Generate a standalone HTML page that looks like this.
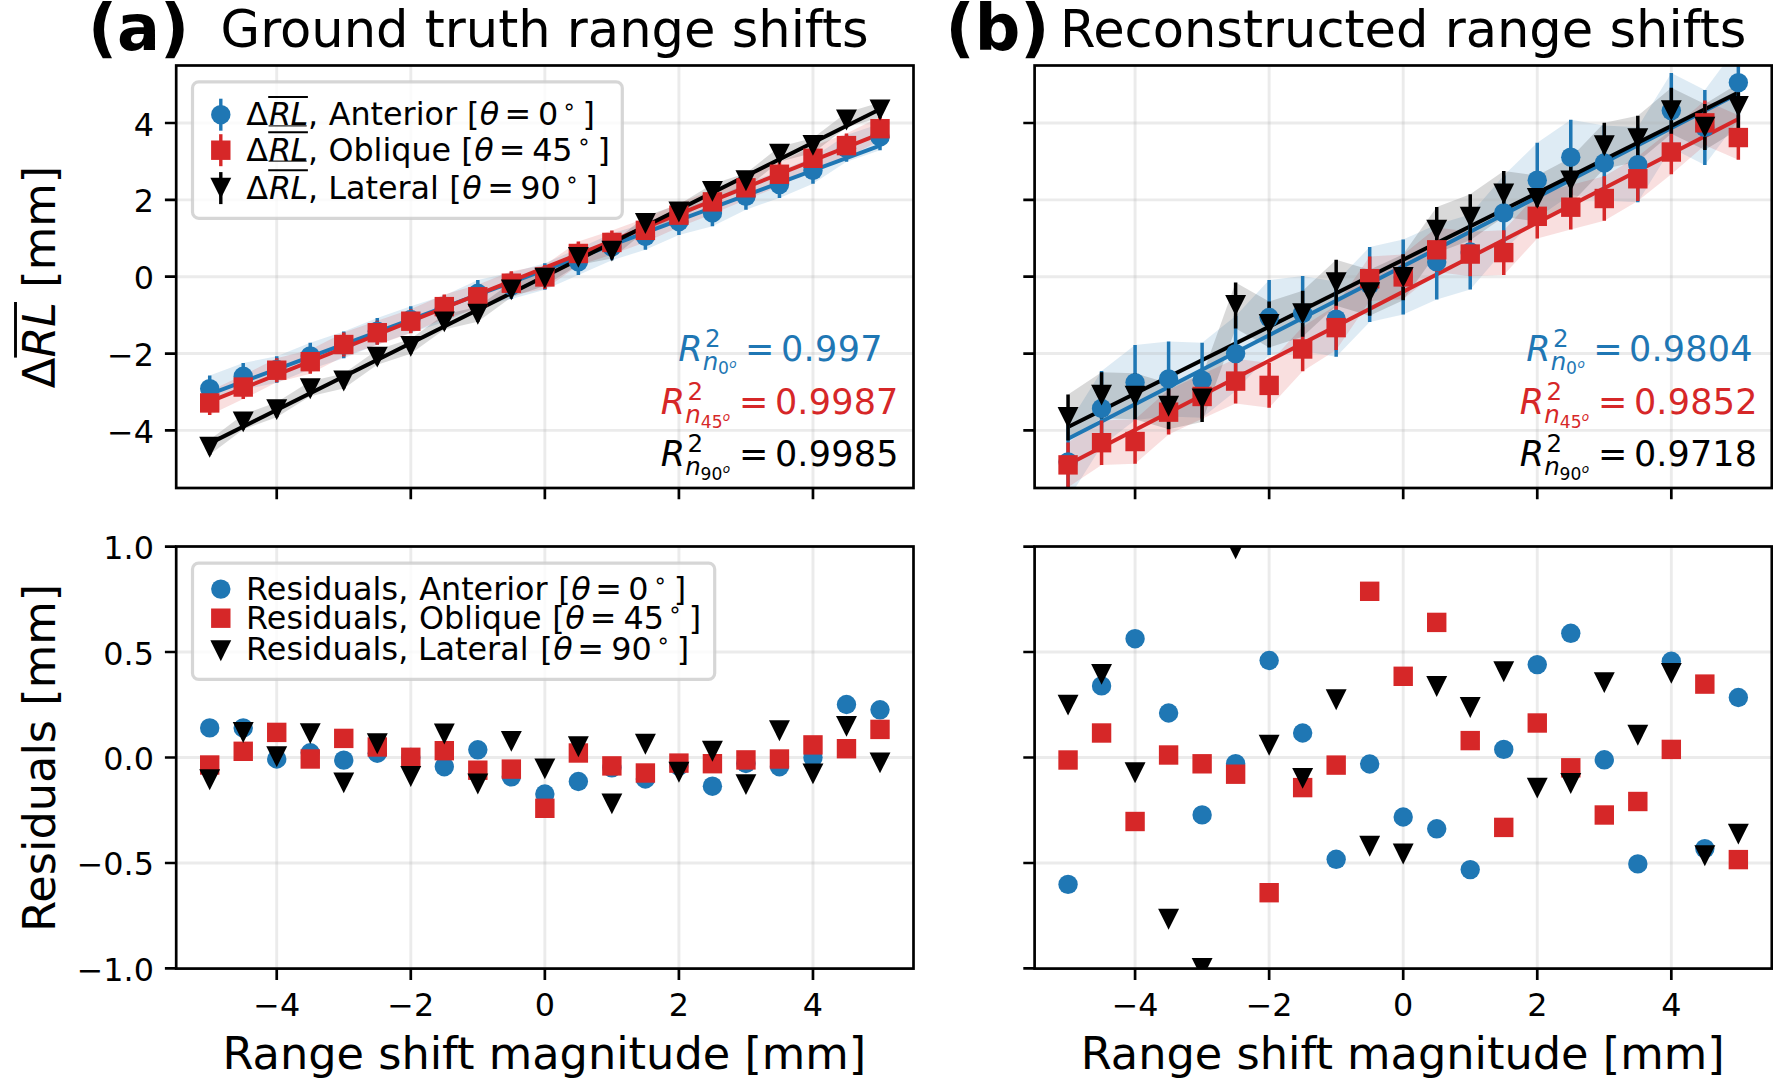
<!DOCTYPE html>
<html lang="en"><head><meta charset="utf-8"><title>Range shifts: ground truth vs reconstructed</title>
<style>html,body{margin:0;padding:0;background:#fff}svg{display:block}</style></head>
<body>
<svg width="1773" height="1078" viewBox="0 0 1773 1078" font-family="'DejaVu Sans','Liberation Sans',sans-serif">
<rect width="1773" height="1078" fill="#fff"/>
<defs>
<clipPath id="clipA"><rect x="176.2" y="65.5" width="737.3" height="422.5"/></clipPath>
<clipPath id="clipB"><rect x="176.2" y="546.5" width="737.3" height="422.1"/></clipPath>
<clipPath id="clipC"><rect x="1034.6" y="65.5" width="737.2" height="422.5"/></clipPath>
<clipPath id="clipD"><rect x="1034.6" y="546.5" width="737.2" height="422.1"/></clipPath>
</defs>
<g clip-path="url(#clipA)">
<polygon points="209.7,375.42 243.22,363 276.73,356.24 310.25,342.68 343.76,331.59 377.28,317.91 410.79,306.27 444.31,295.52 477.82,280.02 511.34,272.51 544.85,263.22 578.37,248.52 611.88,233.6 645.39,223.21 678.91,208.44 712.42,199.68 745.94,183.12 779.46,171.28 812.97,157.18 846.49,135.1 880,123.64 880,150.24 846.49,161.7 812.97,183.78 779.46,197.88 745.94,209.72 712.42,226.28 678.91,235.04 645.39,249.81 611.88,260.2 578.37,275.12 544.85,289.82 511.34,299.11 477.82,306.62 444.31,322.12 410.79,332.87 377.28,344.51 343.76,358.19 310.25,369.28 276.73,382.84 243.22,389.6 209.7,402.02" fill="#1f77b4" fill-opacity="0.15"/>
<polygon points="209.7,390.94 243.22,375.05 276.73,358.22 310.25,349.68 343.76,332.54 377.28,320.72 410.79,309.21 444.31,294.62 477.82,284.78 511.34,271.19 544.85,264.94 578.37,241.48 611.88,230.44 645.39,218.35 678.91,203.16 712.42,189.88 745.94,175.8 779.46,162.25 812.97,146.29 846.49,133.6 880,116.69 880,140.69 846.49,157.6 812.97,170.29 779.46,186.25 745.94,199.8 712.42,213.88 678.91,227.16 645.39,242.35 611.88,254.44 578.37,265.48 544.85,288.94 511.34,295.19 477.82,308.78 444.31,318.62 410.79,333.21 377.28,344.72 343.76,356.54 310.25,373.68 276.73,382.22 243.22,399.05 209.7,414.94" fill="#d62728" fill-opacity="0.15"/>
<polygon points="209.7,439.72 243.22,414.41 276.73,402.13 310.25,381.19 343.76,373.46 377.28,349.63 410.79,338.87 444.31,314.42 477.82,306.82 511.34,282.35 544.85,270.65 578.37,249.91 611.88,243.6 645.39,216.04 678.91,204.43 712.42,183.89 745.94,173.25 779.46,146.72 812.97,137.88 846.49,112.51 880,102.45 880,117.45 846.49,127.51 812.97,152.88 779.46,161.72 745.94,188.25 712.42,198.89 678.91,219.43 645.39,231.04 611.88,258.6 578.37,264.91 544.85,285.65 511.34,297.35 477.82,321.82 444.31,329.42 410.79,353.87 377.28,364.63 343.76,388.46 310.25,396.19 276.73,417.13 243.22,429.41 209.7,454.72" fill="#000000" fill-opacity="0.15"/>
</g>
<path d="M276.73 65.5V488M410.79 65.5V488M544.85 65.5V488M678.91 65.5V488M812.97 65.5V488" stroke="#b0b0b0" stroke-opacity="0.25" stroke-width="2.9" fill="none"/>
<path d="M176.2 430.38H913.5M176.2 353.54H913.5M176.2 276.7H913.5M176.2 199.86H913.5M176.2 123.02H913.5" stroke="#b0b0b0" stroke-opacity="0.25" stroke-width="2.9" fill="none"/>
<g clip-path="url(#clipA)">
<path d="M209.7 394.14L880 145.62" stroke="#1f77b4" stroke-width="4" fill="none"/>
<path d="M209.7 401.59L880 133.82" stroke="#d62728" stroke-width="4" fill="none"/>
<path d="M209.7 443.38L880 109.18" stroke="#000000" stroke-width="4" fill="none"/>
<path d="M209.7 375.42V402.02M243.22 363V389.6M276.73 356.24V382.84M310.25 342.68V369.28M343.76 331.59V358.19M377.28 317.91V344.51M410.79 306.27V332.87M444.31 295.52V322.12M477.82 280.02V306.62M511.34 272.51V299.11M544.85 263.22V289.82M578.37 248.52V275.12M611.88 233.6V260.2M645.39 223.21V249.81M678.91 208.44V235.04M712.42 199.68V226.28M745.94 183.12V209.72M779.46 171.28V197.88M812.97 157.18V183.78M846.49 135.1V161.7M880 123.64V150.24" stroke="#1f77b4" stroke-width="3.5" fill="none"/>
<path d="M209.7 390.94V414.94M243.22 375.05V399.05M276.73 358.22V382.22M310.25 349.68V373.68M343.76 332.54V356.54M377.28 320.72V344.72M410.79 309.21V333.21M444.31 294.62V318.62M477.82 284.78V308.78M511.34 271.19V295.19M544.85 264.94V288.94M578.37 241.48V265.48M611.88 230.44V254.44M645.39 218.35V242.35M678.91 203.16V227.16M712.42 189.88V213.88M745.94 175.8V199.8M779.46 162.25V186.25M812.97 146.29V170.29M846.49 133.6V157.6M880 116.69V140.69" stroke="#d62728" stroke-width="3.5" fill="none"/>
<path d="M209.7 439.72V454.72M243.22 414.41V429.41M276.73 402.13V417.13M310.25 381.19V396.19M343.76 373.46V388.46M377.28 349.63V364.63M410.79 338.87V353.87M444.31 314.42V329.42M477.82 306.82V321.82M511.34 282.35V297.35M544.85 270.65V285.65M578.37 249.91V264.91M611.88 243.6V258.6M645.39 216.04V231.04M678.91 204.43V219.43M712.42 183.89V198.89M745.94 173.25V188.25M779.46 146.72V161.72M812.97 137.88V152.88M846.49 112.51V127.51M880 102.45V117.45" stroke="#000000" stroke-width="3.5" fill="none"/>
<circle cx="209.7" cy="388.72" r="9.7" fill="#1f77b4"/><circle cx="243.22" cy="376.3" r="9.7" fill="#1f77b4"/><circle cx="276.73" cy="369.54" r="9.7" fill="#1f77b4"/><circle cx="310.25" cy="355.98" r="9.7" fill="#1f77b4"/><circle cx="343.76" cy="344.89" r="9.7" fill="#1f77b4"/><circle cx="377.28" cy="331.21" r="9.7" fill="#1f77b4"/><circle cx="410.79" cy="319.57" r="9.7" fill="#1f77b4"/><circle cx="444.31" cy="308.82" r="9.7" fill="#1f77b4"/><circle cx="477.82" cy="293.32" r="9.7" fill="#1f77b4"/><circle cx="511.34" cy="285.81" r="9.7" fill="#1f77b4"/><circle cx="544.85" cy="276.52" r="9.7" fill="#1f77b4"/><circle cx="578.37" cy="261.82" r="9.7" fill="#1f77b4"/><circle cx="611.88" cy="246.9" r="9.7" fill="#1f77b4"/><circle cx="645.39" cy="236.51" r="9.7" fill="#1f77b4"/><circle cx="678.91" cy="221.74" r="9.7" fill="#1f77b4"/><circle cx="712.42" cy="212.98" r="9.7" fill="#1f77b4"/><circle cx="745.94" cy="196.42" r="9.7" fill="#1f77b4"/><circle cx="779.46" cy="184.58" r="9.7" fill="#1f77b4"/><circle cx="812.97" cy="170.48" r="9.7" fill="#1f77b4"/><circle cx="846.49" cy="148.4" r="9.7" fill="#1f77b4"/><circle cx="880" cy="136.94" r="9.7" fill="#1f77b4"/>
<rect x="200" y="393.24" width="19.4" height="19.4" fill="#d62728"/><rect x="233.52" y="377.35" width="19.4" height="19.4" fill="#d62728"/><rect x="267.03" y="360.52" width="19.4" height="19.4" fill="#d62728"/><rect x="300.55" y="351.98" width="19.4" height="19.4" fill="#d62728"/><rect x="334.06" y="334.84" width="19.4" height="19.4" fill="#d62728"/><rect x="367.58" y="323.02" width="19.4" height="19.4" fill="#d62728"/><rect x="401.09" y="311.51" width="19.4" height="19.4" fill="#d62728"/><rect x="434.61" y="296.92" width="19.4" height="19.4" fill="#d62728"/><rect x="468.12" y="287.08" width="19.4" height="19.4" fill="#d62728"/><rect x="501.64" y="273.49" width="19.4" height="19.4" fill="#d62728"/><rect x="535.15" y="267.24" width="19.4" height="19.4" fill="#d62728"/><rect x="568.66" y="243.78" width="19.4" height="19.4" fill="#d62728"/><rect x="602.18" y="232.74" width="19.4" height="19.4" fill="#d62728"/><rect x="635.69" y="220.65" width="19.4" height="19.4" fill="#d62728"/><rect x="669.21" y="205.46" width="19.4" height="19.4" fill="#d62728"/><rect x="702.72" y="192.18" width="19.4" height="19.4" fill="#d62728"/><rect x="736.24" y="178.1" width="19.4" height="19.4" fill="#d62728"/><rect x="769.75" y="164.55" width="19.4" height="19.4" fill="#d62728"/><rect x="803.27" y="148.59" width="19.4" height="19.4" fill="#d62728"/><rect x="836.78" y="135.9" width="19.4" height="19.4" fill="#d62728"/><rect x="870.3" y="118.99" width="19.4" height="19.4" fill="#d62728"/>
<path d="M199.25 436.77H220.15L209.7 457.67Z" fill="#000000"/><path d="M232.77 411.46H253.67L243.22 432.36Z" fill="#000000"/><path d="M266.28 399.18H287.18L276.73 420.08Z" fill="#000000"/><path d="M299.8 378.24H320.69L310.25 399.14Z" fill="#000000"/><path d="M333.31 370.51H354.21L343.76 391.41Z" fill="#000000"/><path d="M366.83 346.68H387.73L377.28 367.58Z" fill="#000000"/><path d="M400.34 335.92H421.24L410.79 356.82Z" fill="#000000"/><path d="M433.86 311.47H454.75L444.31 332.37Z" fill="#000000"/><path d="M467.37 303.87H488.27L477.82 324.77Z" fill="#000000"/><path d="M500.89 279.4H521.79L511.34 300.3Z" fill="#000000"/><path d="M534.4 267.7H555.3L544.85 288.6Z" fill="#000000"/><path d="M567.91 246.96H588.82L578.37 267.86Z" fill="#000000"/><path d="M601.43 240.65H622.33L611.88 261.55Z" fill="#000000"/><path d="M634.94 213.09H655.85L645.39 233.99Z" fill="#000000"/><path d="M668.46 201.48H689.36L678.91 222.38Z" fill="#000000"/><path d="M701.97 180.94H722.88L712.42 201.84Z" fill="#000000"/><path d="M735.49 170.3H756.39L745.94 191.2Z" fill="#000000"/><path d="M769 143.77H789.91L779.46 164.67Z" fill="#000000"/><path d="M802.52 134.93H823.42L812.97 155.83Z" fill="#000000"/><path d="M836.03 109.56H856.94L846.49 130.46Z" fill="#000000"/><path d="M869.55 99.5H890.45L880 120.4Z" fill="#000000"/>
</g>
<rect x="176.2" y="65.5" width="737.3" height="422.5" fill="none" stroke="#000" stroke-width="2.7"/>
<g clip-path="url(#clipC)">
<polygon points="1068.05,424.39 1101.57,370.97 1135.08,345.11 1168.6,341.39 1202.11,342.68 1235.62,316.1 1269.14,280.04 1302.65,275.98 1336.17,281.72 1369.68,247.1 1403.2,239.49 1436.72,224.38 1470.23,214.55 1503.75,175.4 1537.26,142.69 1570.78,119.73 1604.29,125.51 1637.81,127.2 1671.32,73.04 1704.84,89.89 1738.35,45.11 1738.35,120.11 1704.84,164.89 1671.32,148.04 1637.81,202.2 1604.29,200.51 1570.78,194.73 1537.26,217.69 1503.75,250.4 1470.23,289.55 1436.72,299.38 1403.2,314.49 1369.68,322.1 1336.17,356.72 1302.65,350.98 1269.14,355.04 1235.62,391.1 1202.11,417.68 1168.6,416.39 1135.08,420.11 1101.57,445.97 1068.05,499.39" fill="#1f77b4" fill-opacity="0.15"/>
<polygon points="1068.05,442.58 1101.57,420.39 1135.08,419.23 1168.6,389.84 1202.11,374.17 1235.62,358.79 1269.14,363.1 1302.65,326.69 1336.17,305.32 1369.68,256.39 1403.2,254.6 1436.72,227.51 1470.23,231.76 1503.75,230.3 1537.26,194.01 1570.78,184.89 1604.29,176.22 1637.81,156.48 1671.32,129.72 1704.84,100.56 1738.35,115.25 1738.35,159.85 1704.84,145.16 1671.32,174.32 1637.81,201.08 1604.29,220.82 1570.78,229.49 1537.26,238.61 1503.75,274.9 1470.23,276.36 1436.72,272.11 1403.2,299.2 1369.68,300.99 1336.17,349.92 1302.65,371.29 1269.14,407.7 1235.62,403.39 1202.11,418.77 1168.6,434.44 1135.08,463.83 1101.57,464.99 1068.05,487.18" fill="#d62728" fill-opacity="0.15"/>
<polygon points="1068.05,394.46 1101.57,372.14 1135.08,373.32 1168.6,383.28 1202.11,375.9 1235.62,282.4 1269.14,301.41 1302.65,290.73 1336.17,259.69 1369.68,269.63 1403.2,254.33 1436.72,207.09 1470.23,194.19 1503.75,170.97 1537.26,175.42 1570.78,157.86 1604.29,122.76 1637.81,115.63 1671.32,87.63 1704.84,104.11 1738.35,83.45 1738.35,129.45 1704.84,150.11 1671.32,133.63 1637.81,161.63 1604.29,168.76 1570.78,203.86 1537.26,221.42 1503.75,216.97 1470.23,240.19 1436.72,253.09 1403.2,300.33 1369.68,315.63 1336.17,305.69 1302.65,336.73 1269.14,347.41 1235.62,328.4 1202.11,421.9 1168.6,429.28 1135.08,419.32 1101.57,418.14 1068.05,440.46" fill="#000000" fill-opacity="0.15"/>
</g>
<path d="M1135.08 65.5V488M1269.14 65.5V488M1403.2 65.5V488M1537.26 65.5V488M1671.32 65.5V488" stroke="#b0b0b0" stroke-opacity="0.25" stroke-width="2.9" fill="none"/>
<path d="M1034.6 430.38H1771.8M1034.6 353.54H1771.8M1034.6 276.7H1771.8M1034.6 199.86H1771.8M1034.6 123.02H1771.8" stroke="#b0b0b0" stroke-opacity="0.25" stroke-width="2.9" fill="none"/>
<g clip-path="url(#clipC)">
<path d="M1068.05 438.81L1738.35 93.57" stroke="#1f77b4" stroke-width="4" fill="none"/>
<path d="M1068.05 464.45L1738.35 118.99" stroke="#d62728" stroke-width="4" fill="none"/>
<path d="M1068.05 427L1738.35 92.5" stroke="#000000" stroke-width="4" fill="none"/>
<path d="M1068.05 424.39V499.39M1101.57 370.97V445.97M1135.08 345.11V420.11M1168.6 341.39V416.39M1202.11 342.68V417.68M1235.62 316.1V391.1M1269.14 280.04V355.04M1302.65 275.98V350.98M1336.17 281.72V356.72M1369.68 247.1V322.1M1403.2 239.49V314.49M1436.72 224.38V299.38M1470.23 214.55V289.55M1503.75 175.4V250.4M1537.26 142.69V217.69M1570.78 119.73V194.73M1604.29 125.51V200.51M1637.81 127.2V202.2M1671.32 73.04V148.04M1704.84 89.89V164.89M1738.35 45.11V120.11" stroke="#1f77b4" stroke-width="3.5" fill="none"/>
<path d="M1068.05 442.58V487.18M1101.57 420.39V464.99M1135.08 419.23V463.83M1168.6 389.84V434.44M1202.11 374.17V418.77M1235.62 358.79V403.39M1269.14 363.1V407.7M1302.65 326.69V371.29M1336.17 305.32V349.92M1369.68 256.39V300.99M1403.2 254.6V299.2M1436.72 227.51V272.11M1470.23 231.76V276.36M1503.75 230.3V274.9M1537.26 194.01V238.61M1570.78 184.89V229.49M1604.29 176.22V220.82M1637.81 156.48V201.08M1671.32 129.72V174.32M1704.84 100.56V145.16M1738.35 115.25V159.85" stroke="#d62728" stroke-width="3.5" fill="none"/>
<path d="M1068.05 394.46V440.46M1101.57 372.14V418.14M1135.08 373.32V419.32M1168.6 383.28V429.28M1202.11 375.9V421.9M1235.62 282.4V328.4M1269.14 301.41V347.41M1302.65 290.73V336.73M1336.17 259.69V305.69M1369.68 269.63V315.63M1403.2 254.33V300.33M1436.72 207.09V253.09M1470.23 194.19V240.19M1503.75 170.97V216.97M1537.26 175.42V221.42M1570.78 157.86V203.86M1604.29 122.76V168.76M1637.81 115.63V161.63M1671.32 87.63V133.63M1704.84 104.11V150.11M1738.35 83.45V129.45" stroke="#000000" stroke-width="3.5" fill="none"/>
<circle cx="1068.05" cy="461.89" r="9.7" fill="#1f77b4"/><circle cx="1101.57" cy="408.47" r="9.7" fill="#1f77b4"/><circle cx="1135.08" cy="382.61" r="9.7" fill="#1f77b4"/><circle cx="1168.6" cy="378.89" r="9.7" fill="#1f77b4"/><circle cx="1202.11" cy="380.18" r="9.7" fill="#1f77b4"/><circle cx="1235.62" cy="353.6" r="9.7" fill="#1f77b4"/><circle cx="1269.14" cy="317.54" r="9.7" fill="#1f77b4"/><circle cx="1302.65" cy="313.48" r="9.7" fill="#1f77b4"/><circle cx="1336.17" cy="319.22" r="9.7" fill="#1f77b4"/><circle cx="1369.68" cy="284.6" r="9.7" fill="#1f77b4"/><circle cx="1403.2" cy="276.99" r="9.7" fill="#1f77b4"/><circle cx="1436.72" cy="261.88" r="9.7" fill="#1f77b4"/><circle cx="1470.23" cy="252.05" r="9.7" fill="#1f77b4"/><circle cx="1503.75" cy="212.9" r="9.7" fill="#1f77b4"/><circle cx="1537.26" cy="180.19" r="9.7" fill="#1f77b4"/><circle cx="1570.78" cy="157.23" r="9.7" fill="#1f77b4"/><circle cx="1604.29" cy="163.01" r="9.7" fill="#1f77b4"/><circle cx="1637.81" cy="164.7" r="9.7" fill="#1f77b4"/><circle cx="1671.32" cy="110.54" r="9.7" fill="#1f77b4"/><circle cx="1704.84" cy="127.39" r="9.7" fill="#1f77b4"/><circle cx="1738.35" cy="82.61" r="9.7" fill="#1f77b4"/>
<rect x="1058.35" y="455.18" width="19.4" height="19.4" fill="#d62728"/><rect x="1091.87" y="432.99" width="19.4" height="19.4" fill="#d62728"/><rect x="1125.38" y="431.83" width="19.4" height="19.4" fill="#d62728"/><rect x="1158.89" y="402.44" width="19.4" height="19.4" fill="#d62728"/><rect x="1192.41" y="386.77" width="19.4" height="19.4" fill="#d62728"/><rect x="1225.92" y="371.39" width="19.4" height="19.4" fill="#d62728"/><rect x="1259.44" y="375.7" width="19.4" height="19.4" fill="#d62728"/><rect x="1292.95" y="339.29" width="19.4" height="19.4" fill="#d62728"/><rect x="1326.47" y="317.92" width="19.4" height="19.4" fill="#d62728"/><rect x="1359.98" y="268.99" width="19.4" height="19.4" fill="#d62728"/><rect x="1393.5" y="267.2" width="19.4" height="19.4" fill="#d62728"/><rect x="1427.02" y="240.11" width="19.4" height="19.4" fill="#d62728"/><rect x="1460.53" y="244.36" width="19.4" height="19.4" fill="#d62728"/><rect x="1494.05" y="242.9" width="19.4" height="19.4" fill="#d62728"/><rect x="1527.56" y="206.61" width="19.4" height="19.4" fill="#d62728"/><rect x="1561.08" y="197.49" width="19.4" height="19.4" fill="#d62728"/><rect x="1594.59" y="188.82" width="19.4" height="19.4" fill="#d62728"/><rect x="1628.11" y="169.08" width="19.4" height="19.4" fill="#d62728"/><rect x="1661.62" y="142.32" width="19.4" height="19.4" fill="#d62728"/><rect x="1695.13" y="113.16" width="19.4" height="19.4" fill="#d62728"/><rect x="1728.65" y="127.85" width="19.4" height="19.4" fill="#d62728"/>
<path d="M1057.6 407.01H1078.5L1068.05 427.91Z" fill="#000000"/><path d="M1091.12 384.69H1112.02L1101.57 405.59Z" fill="#000000"/><path d="M1124.63 385.87H1145.53L1135.08 406.77Z" fill="#000000"/><path d="M1158.14 395.83H1179.05L1168.6 416.73Z" fill="#000000"/><path d="M1191.66 388.45H1212.56L1202.11 409.35Z" fill="#000000"/><path d="M1225.17 294.95H1246.08L1235.62 315.85Z" fill="#000000"/><path d="M1258.69 313.96H1279.59L1269.14 334.86Z" fill="#000000"/><path d="M1292.2 303.28H1313.11L1302.65 324.18Z" fill="#000000"/><path d="M1325.72 272.24H1346.62L1336.17 293.14Z" fill="#000000"/><path d="M1359.23 282.18H1380.13L1369.68 303.08Z" fill="#000000"/><path d="M1392.75 266.88H1413.65L1403.2 287.78Z" fill="#000000"/><path d="M1426.27 219.64H1447.17L1436.72 240.54Z" fill="#000000"/><path d="M1459.78 206.74H1480.68L1470.23 227.64Z" fill="#000000"/><path d="M1493.3 183.52H1514.2L1503.75 204.42Z" fill="#000000"/><path d="M1526.81 187.97H1547.71L1537.26 208.87Z" fill="#000000"/><path d="M1560.33 170.41H1581.23L1570.78 191.31Z" fill="#000000"/><path d="M1593.84 135.31H1614.74L1604.29 156.21Z" fill="#000000"/><path d="M1627.36 128.18H1648.26L1637.81 149.08Z" fill="#000000"/><path d="M1660.87 100.18H1681.77L1671.32 121.08Z" fill="#000000"/><path d="M1694.38 116.66H1715.29L1704.84 137.56Z" fill="#000000"/><path d="M1727.9 96H1748.8L1738.35 116.9Z" fill="#000000"/>
</g>
<rect x="1034.6" y="65.5" width="737.2" height="422.5" fill="none" stroke="#000" stroke-width="2.7"/>
<path d="M276.73 546.5V968.6M410.79 546.5V968.6M544.85 546.5V968.6M678.91 546.5V968.6M812.97 546.5V968.6" stroke="#b0b0b0" stroke-opacity="0.25" stroke-width="2.9" fill="none"/>
<path d="M176.2 968.45H913.5M176.2 862.98H913.5M176.2 757.5H913.5M176.2 652.02H913.5M176.2 546.55H913.5" stroke="#b0b0b0" stroke-opacity="0.25" stroke-width="2.9" fill="none"/>
<g clip-path="url(#clipB)">
<circle cx="209.7" cy="727.9" r="9.7" fill="#1f77b4"/><circle cx="243.22" cy="727.9" r="9.7" fill="#1f77b4"/><circle cx="276.73" cy="759" r="9.7" fill="#1f77b4"/><circle cx="310.25" cy="752.8" r="9.7" fill="#1f77b4"/><circle cx="343.76" cy="760.1" r="9.7" fill="#1f77b4"/><circle cx="377.28" cy="753.2" r="9.7" fill="#1f77b4"/><circle cx="410.79" cy="757.5" r="9.7" fill="#1f77b4"/><circle cx="444.31" cy="766.7" r="9.7" fill="#1f77b4"/><circle cx="477.82" cy="749.8" r="9.7" fill="#1f77b4"/><circle cx="511.34" cy="776.8" r="9.7" fill="#1f77b4"/><circle cx="544.85" cy="794" r="9.7" fill="#1f77b4"/><circle cx="578.37" cy="781.5" r="9.7" fill="#1f77b4"/><circle cx="611.88" cy="767.8" r="9.7" fill="#1f77b4"/><circle cx="645.39" cy="779" r="9.7" fill="#1f77b4"/><circle cx="678.91" cy="766.1" r="9.7" fill="#1f77b4"/><circle cx="712.42" cy="786.2" r="9.7" fill="#1f77b4"/><circle cx="745.94" cy="763.5" r="9.7" fill="#1f77b4"/><circle cx="779.46" cy="766.7" r="9.7" fill="#1f77b4"/><circle cx="812.97" cy="757.5" r="9.7" fill="#1f77b4"/><circle cx="846.49" cy="704.5" r="9.7" fill="#1f77b4"/><circle cx="880" cy="709.8" r="9.7" fill="#1f77b4"/>
<rect x="200" y="755.3" width="19.4" height="19.4" fill="#d62728"/><rect x="233.52" y="741.6" width="19.4" height="19.4" fill="#d62728"/><rect x="267.03" y="722.7" width="19.4" height="19.4" fill="#d62728"/><rect x="300.55" y="749.3" width="19.4" height="19.4" fill="#d62728"/><rect x="334.06" y="728.7" width="19.4" height="19.4" fill="#d62728"/><rect x="367.58" y="737.3" width="19.4" height="19.4" fill="#d62728"/><rect x="401.09" y="747.6" width="19.4" height="19.4" fill="#d62728"/><rect x="434.61" y="741" width="19.4" height="19.4" fill="#d62728"/><rect x="468.12" y="760.5" width="19.4" height="19.4" fill="#d62728"/><rect x="501.64" y="759.4" width="19.4" height="19.4" fill="#d62728"/><rect x="535.15" y="798.6" width="19.4" height="19.4" fill="#d62728"/><rect x="568.66" y="743.3" width="19.4" height="19.4" fill="#d62728"/><rect x="602.18" y="756.2" width="19.4" height="19.4" fill="#d62728"/><rect x="635.69" y="763.3" width="19.4" height="19.4" fill="#d62728"/><rect x="669.21" y="753.4" width="19.4" height="19.4" fill="#d62728"/><rect x="702.72" y="754" width="19.4" height="19.4" fill="#d62728"/><rect x="736.24" y="750.2" width="19.4" height="19.4" fill="#d62728"/><rect x="769.75" y="749.3" width="19.4" height="19.4" fill="#d62728"/><rect x="803.27" y="735.2" width="19.4" height="19.4" fill="#d62728"/><rect x="836.78" y="739" width="19.4" height="19.4" fill="#d62728"/><rect x="870.3" y="719.7" width="19.4" height="19.4" fill="#d62728"/>
<path d="M199.25 769.25H220.15L209.7 790.15Z" fill="#000000"/><path d="M232.77 722.05H253.67L243.22 742.95Z" fill="#000000"/><path d="M266.28 746.35H287.18L276.73 767.25Z" fill="#000000"/><path d="M299.8 723.15H320.69L310.25 744.05Z" fill="#000000"/><path d="M333.31 772.45H354.21L343.76 793.35Z" fill="#000000"/><path d="M366.83 733.35H387.73L377.28 754.25Z" fill="#000000"/><path d="M400.34 766.05H421.24L410.79 786.95Z" fill="#000000"/><path d="M433.86 723.55H454.75L444.31 744.45Z" fill="#000000"/><path d="M467.37 773.55H488.27L477.82 794.45Z" fill="#000000"/><path d="M500.89 730.95H521.79L511.34 751.85Z" fill="#000000"/><path d="M534.4 758.45H555.3L544.85 779.35Z" fill="#000000"/><path d="M567.91 736.35H588.82L578.37 757.25Z" fill="#000000"/><path d="M601.43 793.45H622.33L611.88 814.35Z" fill="#000000"/><path d="M634.94 733.85H655.85L645.39 754.75Z" fill="#000000"/><path d="M668.46 761.85H689.36L678.91 782.75Z" fill="#000000"/><path d="M701.97 740.85H722.88L712.42 761.75Z" fill="#000000"/><path d="M735.49 774.15H756.39L745.94 795.05Z" fill="#000000"/><path d="M769 720.25H789.91L779.46 741.15Z" fill="#000000"/><path d="M802.52 763.45H823.42L812.97 784.35Z" fill="#000000"/><path d="M836.03 715.95H856.94L846.49 736.85Z" fill="#000000"/><path d="M869.55 752.45H890.45L880 773.35Z" fill="#000000"/>
</g>
<rect x="176.2" y="546.5" width="737.3" height="422.1" fill="none" stroke="#000" stroke-width="2.7"/>
<path d="M1135.08 546.5V968.6M1269.14 546.5V968.6M1403.2 546.5V968.6M1537.26 546.5V968.6M1671.32 546.5V968.6" stroke="#b0b0b0" stroke-opacity="0.25" stroke-width="2.9" fill="none"/>
<path d="M1034.6 968.45H1771.8M1034.6 862.98H1771.8M1034.6 757.5H1771.8M1034.6 652.02H1771.8M1034.6 546.55H1771.8" stroke="#b0b0b0" stroke-opacity="0.25" stroke-width="2.9" fill="none"/>
<g clip-path="url(#clipD)">
<circle cx="1068.05" cy="884.4" r="9.7" fill="#1f77b4"/><circle cx="1101.57" cy="685.9" r="9.7" fill="#1f77b4"/><circle cx="1135.08" cy="638.7" r="9.7" fill="#1f77b4"/><circle cx="1168.6" cy="713" r="9.7" fill="#1f77b4"/><circle cx="1202.11" cy="814.9" r="9.7" fill="#1f77b4"/><circle cx="1235.62" cy="763.7" r="9.7" fill="#1f77b4"/><circle cx="1269.14" cy="660.5" r="9.7" fill="#1f77b4"/><circle cx="1302.65" cy="733" r="9.7" fill="#1f77b4"/><circle cx="1336.17" cy="859.3" r="9.7" fill="#1f77b4"/><circle cx="1369.68" cy="764" r="9.7" fill="#1f77b4"/><circle cx="1403.2" cy="817" r="9.7" fill="#1f77b4"/><circle cx="1436.72" cy="828.8" r="9.7" fill="#1f77b4"/><circle cx="1470.23" cy="869.6" r="9.7" fill="#1f77b4"/><circle cx="1503.75" cy="749.4" r="9.7" fill="#1f77b4"/><circle cx="1537.26" cy="664.6" r="9.7" fill="#1f77b4"/><circle cx="1570.78" cy="633.3" r="9.7" fill="#1f77b4"/><circle cx="1604.29" cy="759.8" r="9.7" fill="#1f77b4"/><circle cx="1637.81" cy="863.9" r="9.7" fill="#1f77b4"/><circle cx="1671.32" cy="661.3" r="9.7" fill="#1f77b4"/><circle cx="1704.84" cy="848.6" r="9.7" fill="#1f77b4"/><circle cx="1738.35" cy="697.5" r="9.7" fill="#1f77b4"/>
<rect x="1058.35" y="750.3" width="19.4" height="19.4" fill="#d62728"/><rect x="1091.87" y="723.3" width="19.4" height="19.4" fill="#d62728"/><rect x="1125.38" y="811.8" width="19.4" height="19.4" fill="#d62728"/><rect x="1158.89" y="745.3" width="19.4" height="19.4" fill="#d62728"/><rect x="1192.41" y="754.1" width="19.4" height="19.4" fill="#d62728"/><rect x="1225.92" y="764.5" width="19.4" height="19.4" fill="#d62728"/><rect x="1259.44" y="883" width="19.4" height="19.4" fill="#d62728"/><rect x="1292.95" y="777.9" width="19.4" height="19.4" fill="#d62728"/><rect x="1326.47" y="755.4" width="19.4" height="19.4" fill="#d62728"/><rect x="1359.98" y="581.6" width="19.4" height="19.4" fill="#d62728"/><rect x="1393.5" y="666.6" width="19.4" height="19.4" fill="#d62728"/><rect x="1427.02" y="612.7" width="19.4" height="19.4" fill="#d62728"/><rect x="1460.53" y="730.9" width="19.4" height="19.4" fill="#d62728"/><rect x="1494.05" y="817.7" width="19.4" height="19.4" fill="#d62728"/><rect x="1527.56" y="713.3" width="19.4" height="19.4" fill="#d62728"/><rect x="1561.08" y="758.1" width="19.4" height="19.4" fill="#d62728"/><rect x="1594.59" y="805.3" width="19.4" height="19.4" fill="#d62728"/><rect x="1628.11" y="791.8" width="19.4" height="19.4" fill="#d62728"/><rect x="1661.62" y="739.7" width="19.4" height="19.4" fill="#d62728"/><rect x="1695.13" y="674.4" width="19.4" height="19.4" fill="#d62728"/><rect x="1728.65" y="849.9" width="19.4" height="19.4" fill="#d62728"/>
<path d="M1057.6 694.65H1078.5L1068.05 715.55Z" fill="#000000"/><path d="M1091.12 663.95H1112.02L1101.57 684.85Z" fill="#000000"/><path d="M1124.63 762.25H1145.53L1135.08 783.15Z" fill="#000000"/><path d="M1158.14 908.75H1179.05L1168.6 929.65Z" fill="#000000"/><path d="M1191.66 957.95H1212.56L1202.11 978.85Z" fill="#000000"/><path d="M1225.17 538.25H1246.08L1235.62 559.15Z" fill="#000000"/><path d="M1258.69 734.75H1279.59L1269.14 755.65Z" fill="#000000"/><path d="M1292.2 767.95H1313.11L1302.65 788.85Z" fill="#000000"/><path d="M1325.72 689.35H1346.62L1336.17 710.25Z" fill="#000000"/><path d="M1359.23 835.75H1380.13L1369.68 856.65Z" fill="#000000"/><path d="M1392.75 843.55H1413.65L1403.2 864.45Z" fill="#000000"/><path d="M1426.27 676.05H1447.17L1436.72 696.95Z" fill="#000000"/><path d="M1459.78 697.05H1480.68L1470.23 717.95Z" fill="#000000"/><path d="M1493.3 661.35H1514.2L1503.75 682.25Z" fill="#000000"/><path d="M1526.81 777.65H1547.71L1537.26 798.55Z" fill="#000000"/><path d="M1560.33 773.05H1581.23L1570.78 793.95Z" fill="#000000"/><path d="M1593.84 672.15H1614.74L1604.29 693.05Z" fill="#000000"/><path d="M1627.36 724.85H1648.26L1637.81 745.75Z" fill="#000000"/><path d="M1660.87 662.95H1681.77L1671.32 683.85Z" fill="#000000"/><path d="M1694.38 845.25H1715.29L1704.84 866.15Z" fill="#000000"/><path d="M1727.9 823.65H1748.8L1738.35 844.55Z" fill="#000000"/>
</g>
<rect x="1034.6" y="546.5" width="737.2" height="422.1" fill="none" stroke="#000" stroke-width="2.7"/>
<path d="M276.73 488v11.3M410.79 488v11.3M544.85 488v11.3M678.91 488v11.3M812.97 488v11.3M176.2 430.38h-11.3M176.2 353.54h-11.3M176.2 276.7h-11.3M176.2 199.86h-11.3M176.2 123.02h-11.3" stroke="#000" stroke-width="2.7" fill="none"/>
<path d="M1135.08 488v11.3M1269.14 488v11.3M1403.2 488v11.3M1537.26 488v11.3M1671.32 488v11.3M1034.6 430.38h-11.3M1034.6 353.54h-11.3M1034.6 276.7h-11.3M1034.6 199.86h-11.3M1034.6 123.02h-11.3" stroke="#000" stroke-width="2.7" fill="none"/>
<path d="M276.73 968.6v11.3M410.79 968.6v11.3M544.85 968.6v11.3M678.91 968.6v11.3M812.97 968.6v11.3M176.2 968.45h-11.3M176.2 862.98h-11.3M176.2 757.5h-11.3M176.2 652.02h-11.3M176.2 546.55h-11.3" stroke="#000" stroke-width="2.7" fill="none"/>
<path d="M1135.08 968.6v11.3M1269.14 968.6v11.3M1403.2 968.6v11.3M1537.26 968.6v11.3M1671.32 968.6v11.3M1034.6 968.45h-11.3M1034.6 862.98h-11.3M1034.6 757.5h-11.3M1034.6 652.02h-11.3M1034.6 546.55h-11.3" stroke="#000" stroke-width="2.7" fill="none"/>
<text x="276.73" y="1015.6" font-size="31.8" text-anchor="middle">−4</text>
<text x="410.79" y="1015.6" font-size="31.8" text-anchor="middle">−2</text>
<text x="544.85" y="1015.6" font-size="31.8" text-anchor="middle">0</text>
<text x="678.91" y="1015.6" font-size="31.8" text-anchor="middle">2</text>
<text x="812.97" y="1015.6" font-size="31.8" text-anchor="middle">4</text>
<text x="1135.08" y="1015.6" font-size="31.8" text-anchor="middle">−4</text>
<text x="1269.14" y="1015.6" font-size="31.8" text-anchor="middle">−2</text>
<text x="1403.2" y="1015.6" font-size="31.8" text-anchor="middle">0</text>
<text x="1537.26" y="1015.6" font-size="31.8" text-anchor="middle">2</text>
<text x="1671.32" y="1015.6" font-size="31.8" text-anchor="middle">4</text>
<text x="153.9" y="442.88" font-size="31.8" text-anchor="end">−4</text>
<text x="153.9" y="366.04" font-size="31.8" text-anchor="end">−2</text>
<text x="153.9" y="289.2" font-size="31.8" text-anchor="end">0</text>
<text x="153.9" y="212.36" font-size="31.8" text-anchor="end">2</text>
<text x="153.9" y="135.52" font-size="31.8" text-anchor="end">4</text>
<text x="153.9" y="980.95" font-size="31.8" text-anchor="end">−1.0</text>
<text x="153.9" y="875.48" font-size="31.8" text-anchor="end">−0.5</text>
<text x="153.9" y="770" font-size="31.8" text-anchor="end">0.0</text>
<text x="153.9" y="664.52" font-size="31.8" text-anchor="end">0.5</text>
<text x="153.9" y="559.05" font-size="31.8" text-anchor="end">1.0</text>
<text x="544.6" y="47" font-size="51.1" text-anchor="middle">Ground truth range shifts</text>
<text x="1403.2" y="47" font-size="51.1" text-anchor="middle">Reconstructed range shifts</text>
<text x="88.02" y="50.1" font-size="63.7" font-weight="bold">(a)</text>
<text x="945.62" y="50.1" font-size="63.7" font-weight="bold">(b)</text>
<text x="544.35" y="1068.5" font-size="44.65" text-anchor="middle">Range shift magnitude [mm]</text>
<text x="1402.7" y="1068.5" font-size="44.65" text-anchor="middle">Range shift magnitude [mm]</text>
<text transform="translate(55.2,757.8) rotate(-90)" font-size="44.65" text-anchor="middle">Residuals [mm]</text>
<text transform="translate(55.2,0) rotate(-90)" y="0" font-size="44.65"><tspan x="-388.36">Δ</tspan><tspan x="-357.51" font-style="oblique">R</tspan><tspan x="-327.11" font-style="oblique">L</tspan><tspan x="-287.74">[mm]</tspan></text>
<path d="M15.5 357.6V302" stroke="#000" stroke-width="2.9" fill="none"/>
<rect x="192.5" y="81.8" width="429.8" height="136.5" rx="6.2" fill="#fff" fill-opacity="0.8" stroke="#ccc" stroke-opacity="0.8" stroke-width="3.2"/>
<path d="M220.8 98.7V130.7" stroke="#1f77b4" stroke-width="3.4" fill="none"/>
<circle cx="220.8" cy="114.7" r="9.7" fill="#1f77b4"/>
<text><tspan x="246.25" y="125.4" font-size="31.8">Δ</tspan><tspan x="268.95" y="125.4" font-size="31.8" font-style="oblique">R</tspan><tspan x="290.45" y="125.4" font-size="31.8" font-style="oblique">L</tspan><tspan x="307.95" y="125.4" font-size="31.8">,</tspan><tspan x="328.65" y="125.4" font-size="31.8">Anterior</tspan><tspan x="466.97" y="125.4" font-size="31.8">[</tspan><tspan x="479.76" y="125.4" font-size="31.8" font-style="oblique">θ</tspan><tspan x="504.43" y="125.4" font-size="31.8">=</tspan><tspan x="537.9" y="125.4" font-size="31.8">0</tspan><tspan x="562.18" y="113.8" font-size="22.26">∘</tspan><tspan x="582.43" y="125.4" font-size="31.8">]</tspan></text>
<path d="M268.2 97.1H307.9" stroke="#000" stroke-width="2" fill="none"/>
<path d="M268.6 125.9H306.7" stroke="#000" stroke-opacity="0.85" stroke-width="1.1" fill="none"/>
<path d="M220.8 134.2V166.2" stroke="#d62728" stroke-width="3.4" fill="none"/>
<rect x="211.1" y="140.5" width="19.4" height="19.4" fill="#d62728"/>
<text><tspan x="246.25" y="160.6" font-size="31.8">Δ</tspan><tspan x="268.95" y="160.6" font-size="31.8" font-style="oblique">R</tspan><tspan x="290.45" y="160.6" font-size="31.8" font-style="oblique">L</tspan><tspan x="307.95" y="160.6" font-size="31.8">,</tspan><tspan x="328.41" y="160.6" font-size="31.8">Oblique</tspan><tspan x="461.37" y="160.6" font-size="31.8">[</tspan><tspan x="474.16" y="160.6" font-size="31.8" font-style="oblique">θ</tspan><tspan x="498.83" y="160.6" font-size="31.8">=</tspan><tspan x="532.15" y="160.6" font-size="31.8">45</tspan><tspan x="576.88" y="149" font-size="22.26">∘</tspan><tspan x="597.43" y="160.6" font-size="31.8">]</tspan></text>
<path d="M268.2 132.3H307.9" stroke="#000" stroke-width="2" fill="none"/>
<path d="M268.6 161.1H306.7" stroke="#000" stroke-opacity="0.85" stroke-width="1.1" fill="none"/>
<path d="M220.8 172.1V204.1" stroke="#000000" stroke-width="3.4" fill="none"/>
<path d="M210.35 177.65H231.25L220.8 198.55Z" fill="#000000"/>
<text><tspan x="246.25" y="198.5" font-size="31.8">Δ</tspan><tspan x="268.95" y="198.5" font-size="31.8" font-style="oblique">R</tspan><tspan x="290.45" y="198.5" font-size="31.8" font-style="oblique">L</tspan><tspan x="307.95" y="198.5" font-size="31.8">,</tspan><tspan x="328.28" y="198.5" font-size="31.8">Lateral</tspan><tspan x="449.37" y="198.5" font-size="31.8">[</tspan><tspan x="462.16" y="198.5" font-size="31.8" font-style="oblique">θ</tspan><tspan x="487.23" y="198.5" font-size="31.8">=</tspan><tspan x="520.2" y="198.5" font-size="31.8">90</tspan><tspan x="565.08" y="186.9" font-size="22.26">∘</tspan><tspan x="585.33" y="198.5" font-size="31.8">]</tspan></text>
<path d="M268.2 170.2H307.9" stroke="#000" stroke-width="2" fill="none"/>
<rect x="192.5" y="563.1" width="522.2" height="116.3" rx="6.2" fill="#fff" fill-opacity="0.8" stroke="#ccc" stroke-opacity="0.8" stroke-width="3.2"/>
<circle cx="220.8" cy="589.1" r="9.7" fill="#1f77b4"/>
<text><tspan x="245.88" y="599.5" font-size="31.8" letter-spacing="0.18">Residuals,</tspan><tspan x="419.25" y="599.5" font-size="31.8">Anterior</tspan><tspan x="558.17" y="599.5" font-size="31.8">[</tspan><tspan x="571.16" y="599.5" font-size="31.8" font-style="oblique">θ</tspan><tspan x="595.13" y="599.5" font-size="31.8">=</tspan><tspan x="628.3" y="599.5" font-size="31.8">0</tspan><tspan x="653.28" y="587.9" font-size="22.26">∘</tspan><tspan x="673.73" y="599.5" font-size="31.8">]</tspan></text>
<rect x="211.1" y="608.5" width="19.4" height="19.4" fill="#d62728"/>
<text><tspan x="245.88" y="628.5" font-size="31.8" letter-spacing="0.18">Residuals,</tspan><tspan x="418.91" y="628.5" font-size="31.8">Oblique</tspan><tspan x="552.37" y="628.5" font-size="31.8">[</tspan><tspan x="565.36" y="628.5" font-size="31.8" font-style="oblique">θ</tspan><tspan x="589.73" y="628.5" font-size="31.8">=</tspan><tspan x="623.55" y="628.5" font-size="31.8">45</tspan><tspan x="668.08" y="616.9" font-size="22.26">∘</tspan><tspan x="688.83" y="628.5" font-size="31.8">]</tspan></text>
<path d="M210.35 640.35H231.25L220.8 661.25Z" fill="#000000"/>
<text><tspan x="245.88" y="659.9" font-size="31.8" letter-spacing="0.18">Residuals,</tspan><tspan x="417.88" y="659.9" font-size="31.8">Lateral</tspan><tspan x="540.17" y="659.9" font-size="31.8">[</tspan><tspan x="553.26" y="659.9" font-size="31.8" font-style="oblique">θ</tspan><tspan x="577.33" y="659.9" font-size="31.8">=</tspan><tspan x="611.2" y="659.9" font-size="31.8">90</tspan><tspan x="656.28" y="648.3" font-size="22.26">∘</tspan><tspan x="676.63" y="659.9" font-size="31.8">]</tspan></text>
<text fill="#1f77b4"><tspan x="678.16" y="360.6" font-size="35" font-style="oblique">R</tspan><tspan x="704.91" y="346.9" font-size="24.5">2</tspan><tspan x="702.64" y="370" font-size="24.5" font-style="oblique">n</tspan><tspan x="717.97" y="374.3" font-size="17.15">0</tspan><tspan x="729.35" y="367.6" font-size="12.01" font-style="oblique">o</tspan><tspan x="745.09" y="360.6" font-size="35">=</tspan><tspan x="780.99" y="360.6" font-size="35" letter-spacing="0.35">0.997</tspan></text>
<text fill="#d62728"><tspan x="660.66" y="414" font-size="35" font-style="oblique">R</tspan><tspan x="687.41" y="400.3" font-size="24.5">2</tspan><tspan x="685.14" y="423.4" font-size="24.5" font-style="oblique">n</tspan><tspan x="700.76" y="427.7" font-size="17.15">45</tspan><tspan x="722.85" y="421" font-size="12.01" font-style="oblique">o</tspan><tspan x="738.99" y="414" font-size="35">=</tspan><tspan x="774.89" y="414" font-size="35" letter-spacing="0.21">0.9987</tspan></text>
<text fill="#000000"><tspan x="660.66" y="465.8" font-size="35" font-style="oblique">R</tspan><tspan x="687.41" y="452.1" font-size="24.5">2</tspan><tspan x="685.14" y="475.2" font-size="24.5" font-style="oblique">n</tspan><tspan x="700.52" y="479.5" font-size="17.15">90</tspan><tspan x="722.85" y="472.8" font-size="12.01" font-style="oblique">o</tspan><tspan x="738.99" y="465.8" font-size="35">=</tspan><tspan x="774.89" y="465.8" font-size="35" letter-spacing="0.22">0.9985</tspan></text>
<text fill="#1f77b4"><tspan x="1526.26" y="360.6" font-size="35" font-style="oblique">R</tspan><tspan x="1553.01" y="346.9" font-size="24.5">2</tspan><tspan x="1550.74" y="370" font-size="24.5" font-style="oblique">n</tspan><tspan x="1566.07" y="374.3" font-size="17.15">0</tspan><tspan x="1577.45" y="367.6" font-size="12.01" font-style="oblique">o</tspan><tspan x="1593.19" y="360.6" font-size="35">=</tspan><tspan x="1629.09" y="360.6" font-size="35" letter-spacing="0.2">0.9804</tspan></text>
<text fill="#d62728"><tspan x="1519.66" y="414" font-size="35" font-style="oblique">R</tspan><tspan x="1546.41" y="400.3" font-size="24.5">2</tspan><tspan x="1544.14" y="423.4" font-size="24.5" font-style="oblique">n</tspan><tspan x="1559.76" y="427.7" font-size="17.15">45</tspan><tspan x="1581.85" y="421" font-size="12.01" font-style="oblique">o</tspan><tspan x="1597.99" y="414" font-size="35">=</tspan><tspan x="1633.89" y="414" font-size="35" letter-spacing="0.23">0.9852</tspan></text>
<text fill="#000000"><tspan x="1519.66" y="465.8" font-size="35" font-style="oblique">R</tspan><tspan x="1546.41" y="452.1" font-size="24.5">2</tspan><tspan x="1544.14" y="475.2" font-size="24.5" font-style="oblique">n</tspan><tspan x="1559.52" y="479.5" font-size="17.15">90</tspan><tspan x="1581.85" y="472.8" font-size="12.01" font-style="oblique">o</tspan><tspan x="1597.99" y="465.8" font-size="35">=</tspan><tspan x="1633.89" y="465.8" font-size="35" letter-spacing="0.13">0.9718</tspan></text>
</svg>
</body></html>
